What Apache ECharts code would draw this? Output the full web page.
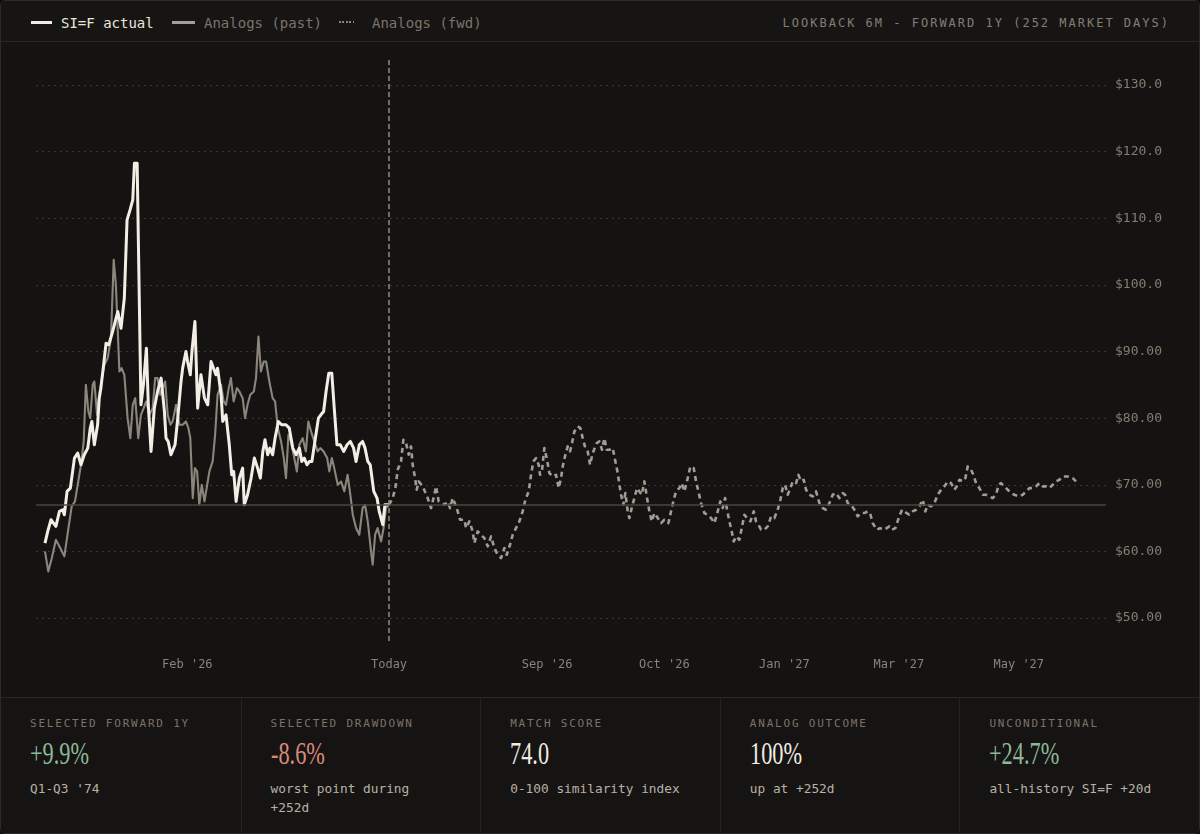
<!DOCTYPE html>
<html>
<head>
<meta charset="utf-8">
<script src="https://cdn.jsdelivr.net/npm/echarts@6/dist/echarts.min.js"></script>
<style>
  html, body { margin: 0; padding: 0; background: #0f0e0d; }
  #card { position: absolute; left: 0; top: 0; width: 1200px; height: 834px; box-sizing: border-box;
          background: #151311; border: 1px solid #2e2a26; border-radius: 6px; overflow: hidden; }
  #header { position: absolute; left: 0; top: 0; width: 100%; height: 40px; background: #171513;
            border-bottom: 1px solid #2a2622; font-family: "DejaVu Sans Mono", monospace; }
  .lg { position: absolute; top: 13px; font-size: 14px; line-height: 18px; white-space: nowrap; }
  .mk { position: absolute; top: 20px; height: 3px; }
  #title { position: absolute; right: 29px; top: 14px; font-size: 12px; line-height: 16px; letter-spacing: 2px;
           color: #857d73; white-space: nowrap; }
  #chart { position: absolute; left: 0; top: 41px; width: 1200px; height: 655px; }
  #stats { position: absolute; left: 0; top: 696px; width: 100%; height: 138px; background: #161412;
           border-top: 1px solid #2a2622; display: flex; }
  .cell { position: relative; width: 240px; height: 100%; box-sizing: border-box; }
  .cell + .cell { border-left: 1px solid #26231f; }
  .lab { position: absolute; left: 29px; top: 19px; font-family: "DejaVu Sans Mono", monospace; font-size: 11px;
         line-height: 14px; letter-spacing: 1.8px; color: #7a7369; white-space: nowrap; }
  .big { position: absolute; left: 29px; top: 39px; font-family: "Liberation Serif", serif; font-size: 31px;
         line-height: 34px; transform: scaleX(0.72); transform-origin: left center; white-space: nowrap; }
  .sub { position: absolute; left: 29px; top: 81px; max-width: 182px; font-family: "DejaVu Sans Mono", monospace;
         font-size: 12.8px; line-height: 19px; color: #b8b1a6; }
</style>
</head>
<body>
<div id="card">
  <div id="header">
    <div class="mk" style="left:30px;width:21px;background:#f1ece3;"></div>
    <div class="lg" style="left:60px;color:#ebe6dd;">SI=F actual</div>
    <div class="mk" style="left:171px;width:23px;background:#a59e94;"></div>
    <div class="lg" style="left:203px;color:#7a7369;">Analogs (past)</div>
    <div class="mk" style="left:338px;width:15px;height:2px;top:20px;background:repeating-linear-gradient(90deg,#8a847b 0 2px,transparent 2px 3.5px);"></div>
    <div class="lg" style="left:371px;color:#7a7369;">Analogs (fwd)</div>
    <div id="title">LOOKBACK 6M - FORWARD 1Y (252 MARKET DAYS)</div>
  </div>
  <div id="chart"></div>
  <div id="stats"></div>
</div>
<script>
// ---- data (x = market days relative to today, y = price in USD) ----
const currentPrice = 67.0;

const actualPast = [
  [-126.2,61.25],[-125.2,63],[-124.0,64.75],[-122.2,63.75],[-120.9,66],[-119.7,66.25],[-119.1,65.5],[-118.1,69],
  [-116.9,69.5],[-115.4,74],[-114.2,74.75],[-113.0,73],[-111.8,74.5],[-110.5,75.5],[-109.6,78.5],[-109.0,79.5],
  [-108.1,76],[-106.9,79],[-106.3,83],[-105.7,84.5],[-104.7,88],[-103.8,91.25],[-102.8,91],[-101.4,93],[-99.5,96],
  [-98.3,93.5],[-97.1,98],[-96.1,109.75],[-95.0,111.25],[-94.0,112.75],[-93.4,118.25],[-92.4,118.25],[-91.0,82],
  [-90.1,85],[-89.0,90.5],[-88.3,82],[-87.3,75],[-86.1,81.5],[-84.9,84],[-83.6,86],[-82.4,81],[-81.8,77],[-81.0,76.5],
  [-80.0,74.5],[-78.5,76],[-77.5,80],[-76.3,85.5],[-75.7,87.5],[-74.5,90],[-73.9,88.5],[-72.9,86.5],[-72.3,90],
  [-71.2,94.5],[-70.2,81.5],[-69.0,86.5],[-67.7,83],[-66.5,82],[-65.3,88.5],[-63.5,86.5],[-62.9,87.5],[-61.6,83.5],
  [-61.0,79.5],[-59.8,80.5],[-58.6,76],[-57.7,71.5],[-57.0,72],[-56.1,67.5],[-54.9,71],[-53.7,72.5],[-53.1,67],
  [-51.9,68.5],[-50.6,71],[-49.4,74],[-48.2,72.5],[-47.2,71],[-46.3,75],[-45.5,76.75],[-44.5,74.5],[-43.7,75.5],
  [-42.7,74.5],[-41.8,77],[-40.6,79.5],[-39.4,79],[-37.8,79],[-36.6,78.5],[-35.3,75.5],[-34.1,74.5],[-32.9,75.5],
  [-32.0,73.5],[-31.1,74],[-30.1,73],[-29.2,73.5],[-28.3,73.5],[-27.2,76.5],[-25.9,80],[-25.0,80.5],[-24.0,81],
  [-23.1,84],[-22.1,86.75],[-21.0,86.75],[-20.1,81.5],[-19.1,76],[-17.9,76],[-16.6,75],[-15.4,76],[-14.2,76.5],
  [-13.0,75.5],[-12.1,73.5],[-10.9,76],[-9.7,76.5],[-8.8,75.5],[-7.8,73.5],[-6.9,73],[-5.6,69],[-4.4,68],[-3.6,66],
  [-2.3,64],[-1.5,67],[0,67]
];

const analogPast = [
  [-126.2,60],[-125.0,57],[-123.7,59],[-122.2,61.75],[-120.6,60.5],[-119.1,59.25],[-117.6,63.5],[-116.4,66.75],
  [-115.2,67.5],[-114.2,70],[-113.0,73],[-112.0,76.5],[-111.2,85],[-110.3,81],[-109.6,80],[-108.7,85],[-108.1,85.5],
  [-107.1,80.5],[-106.3,83.5],[-105.3,86],[-104.4,88],[-103.2,89],[-102.0,92],[-101.0,103.75],[-100.2,100],[-99.5,93],
  [-98.9,87],[-98.1,87.5],[-97.1,86.5],[-95.9,80],[-94.9,77],[-94.0,82],[-93.1,83],[-92.0,77],[-91.0,80.5],[-90.0,81.5],
  [-89.1,82.5],[-87.9,80.5],[-86.7,81.5],[-85.8,86],[-84.9,86],[-83.9,83.5],[-83.0,84.5],[-82.1,85.5],[-81.2,80.5],
  [-80.2,79],[-79.4,79.5],[-78.1,82],[-76.9,79],[-75.7,79],[-74.5,79.5],[-73.6,78.5],[-72.9,77],[-72.0,68],[-71.2,72.5],
  [-70.4,72],[-69.6,67],[-68.7,70],[-67.7,67.5],[-65.9,72],[-64.7,73.5],[-63.8,77.5],[-62.9,83.5],[-61.6,85],[-60.7,82.5],
  [-59.8,82],[-58.8,84.5],[-58.0,86],[-57.0,82.5],[-55.8,84.5],[-54.9,84],[-53.7,83],[-52.8,80],[-51.9,82],[-50.9,83.5],
  [-49.6,84],[-48.8,86],[-47.9,92.25],[-47.0,87],[-46.0,88.5],[-45.1,88.5],[-43.9,85.5],[-42.7,83],[-41.8,82.5],
  [-40.8,78.5],[-39.6,76.5],[-38.6,74],[-37.8,71],[-36.9,77.5],[-36.0,76.5],[-35.0,74.5],[-33.8,72],[-32.9,76],
  [-31.7,77],[-30.5,75],[-29.6,79.5],[-28.6,78],[-27.4,76.5],[-26.2,75],[-25.2,75.5],[-24.0,75],[-22.7,74],[-21.9,72],
  [-21.0,74],[-20.1,72.5],[-18.8,70],[-17.6,70.5],[-16.4,69],[-15.2,71.5],[-14.2,68.5],[-13.3,65.5],[-12.1,63.5],
  [-10.9,62.5],[-9.7,66.5],[-8.8,67],[-7.8,64.5],[-6.6,60],[-6.0,58],[-5.1,62.5],[-4.2,63.5],[-2.9,61.5],[-2.0,63.5],
  [-1.1,66.5],[0,67]
];

const analogFwd = [
  [0,67],[1.35,68],[2.32,69.5],[3.18,72.25],[4.40,73.5],[5.26,76.75],[6.24,76.25],[7.22,74.5],[8.07,75.75],[8.68,73],
  [9.66,70.75],[10.15,69.25],[10.88,70.5],[12.35,69.75],[14.19,68],[15.41,66.5],[16.63,68.5],[17.24,69.75],[18.22,67.5],
  [19.08,67.25],[20.30,67],[21.52,67.5],[22.38,66.5],[23.36,68],[24.82,66.5],[26.05,64.75],[27.64,64.75],[28.25,63.5],
  [29.47,64.5],[30.69,63],[31.30,61.25],[32.53,63],[33.75,62.5],[34.97,62],[36.20,60.75],[37.42,62.25],[38.64,60.5],
  [39.86,59.5],[41.09,59],[42.31,60.5],[43.17,59.5],[44.39,61],[45.37,62.5],[46.59,63.5],[47.81,64.5],[49.03,66],
  [50.01,67.75],[51.24,69],[52.09,71.5],[52.95,73.5],[53.93,74],[54.90,73],[55.39,71.5],[56.13,72.25],[56.98,75.5],
  [57.84,74],[58.82,71.75],[60.04,71.25],[61.26,71.5],[62.24,69.5],[63.10,71],[63.71,72.75],[64.69,74.5],[65.54,75.75],
  [66.40,75],[67.13,76.25],[67.99,78],[69.21,78.75],[70.19,78.5],[71.05,77],[72.02,75.5],[72.88,75],[73.74,73],
  [74.71,74.75],[76.18,76.25],[77.16,76.5],[78.14,75.25],[78.99,77],[79.85,75.25],[80.83,75.25],[82.05,75.5],
  [83.03,73.5],[83.89,71.75],[84.50,70],[85.11,68.5],[85.96,67],[86.70,68.75],[87.56,66],[88.17,65],[89.02,66.5],
  [90.00,68],[90.98,69.5],[91.84,69],[92.69,68.5],[93.67,70.5],[94.65,68],[95.50,66],[96.36,64.5],[97.34,65.75],
  [98.56,65],[99.78,64.25],[101.01,64.75],[102.47,64.25],[103.45,66],[104.43,67.75],[105.29,69],[106.51,69.5],
  [107.37,70.25],[108.34,69],[109.57,71],[110.54,72.75],[111.77,72.5],[112.62,70.5],[113.48,69],[114.46,67.25],
  [115.68,65.75],[116.90,65.5],[118.13,65],[119.35,64.25],[120.57,66],[121.55,67.5],[122.41,66.5],[123.26,68],
  [124.00,66.25],[124.85,64.5],[125.71,63],[126.44,61.5],[127.30,62.25],[128.52,61.75],[129.38,63.5],[130.35,65.5],
  [131.33,65],[132.56,64.5],[133.78,66],[134.63,64.5],[135.49,64],[136.47,63.25],[137.69,63.25],[138.91,63.75],
  [140.14,65.25],[141.36,65],[142.58,66.25],[143.56,67.75],[144.42,69.5],[145.27,70],[146.25,68.5],[147.23,69.5],
  [148.08,70.5],[149.31,70.25],[150.16,71.5],[151.14,70.5],[152.12,70.75],[152.98,69.25],[154.20,68.5],[155.42,68.25],
  [156.64,69],[157.87,67.25],[159.09,66.5],[160.31,66.25],[161.54,67.25],[162.76,68.5],[163.98,68.75],[165.20,68],
  [166.43,68.75],[167.28,68.5],[168.26,67.25],[169.48,67],[170.71,66.25],[171.93,65.25],[173.15,65.75],[174.37,65.75],
  [175.59,66],[176.45,65.75],[177.42,64.25],[178.89,63.25],[180.11,63.5],[181.34,63.25],[182.56,63.5],[183.54,63.75],
  [184.52,63.25],[185.74,63.5],[186.96,65],[188.18,66.25],[189.04,66],[189.90,65.75],[190.87,65.5],[192.10,66],
  [193.32,66.25],[194.54,66.75],[195.77,67.75],[196.74,66],[197.60,67],[198.82,66.75],[200.05,67.25],[201.27,68.5],
  [202.49,69.25],[203.71,69.75],[204.94,70.5],[206.16,70.25],[207.38,69.25],[208.24,69.75],[209.22,70.75],[210.44,70.5],
  [211.42,71],[212.27,72.75],[213.50,72.25],[214.35,71.5],[215.33,70.25],[216.55,69.5],[217.78,68.5],[219.00,68.5],
  [220.22,68.25],[221.44,68],[222.67,68.5],[223.64,70],[224.50,70.25],[225.72,69.75],[226.95,69.25],[228.17,68.75],
  [229.39,68.5],[231.23,68.25],[232.45,68.5],[233.67,69],[234.90,69.5],[236.12,69.5],[237.34,69.75],[238.56,70.25],
  [239.79,69.75],[241.01,69.75],[242.23,69.5],[243.46,70],[244.68,70.5],[245.90,70.75],[247.12,71.25],[248.35,71.25],
  [249.57,71.25],[250.79,71],[252.01,70.5]
];

const xTickDays = [-74, 0, 58, 101, 145, 187, 231];
const xTickLabels = ["Feb '26", "Today", "Sep '26", "Oct '26", "Jan '27", "Mar '27", "May '27"];

const statLabels = ["SELECTED FORWARD 1Y", "SELECTED DRAWDOWN", "MATCH SCORE", "ANALOG OUTCOME", "UNCONDITIONAL"];
const statValues = ["+9.9%", "-8.6%", "74.0", "100%", "+24.7%"];
const statNotes  = ["Q1-Q3 '74", "worst point during +252d", "0-100 similarity index", "up at +252d", "all-history SI=F +20d"];
const statTones  = ["pos", "neg", "neutral", "neutral", "pos"];

// ---- stats strip ----
const toneColor = { pos: '#8db79a', neg: '#d98a7c', neutral: '#f1ece3' };
const stats = document.getElementById('stats');
statLabels.forEach((lab, i) => {
  const c = document.createElement('div');
  c.className = 'cell';
  c.innerHTML = '<div class="lab"></div><div class="big"></div><div class="sub"></div>';
  c.querySelector('.lab').textContent = lab;
  const b = c.querySelector('.big');
  b.textContent = statValues[i];
  b.style.color = toneColor[statTones[i]];
  c.querySelector('.sub').textContent = statNotes[i];
  stats.appendChild(c);
});

// ---- chart ----
const chart = echarts.init(document.getElementById('chart'));
const mono = '"DejaVu Sans Mono", monospace';
chart.setOption({
  backgroundColor: 'transparent',
  animation: false,
  grid: { left: 35, right: 95, top: 17, bottom: 56 },
  xAxis: {
    type: 'value', min: -129.5, max: 263,
    axisLine: { show: false }, axisTick: { show: false }, splitLine: { show: false },
    axisLabel: {
      customValues: xTickDays,
      formatter: v => { const k = xTickDays.indexOf(v); return k >= 0 ? xTickLabels[k] : ''; },
      color: '#8a8277', fontFamily: mono, fontSize: 12, margin: 18
    }
  },
  yAxis: {
    type: 'value', position: 'right', min: 46.55, max: 133.9, splitNumber: 8,
    axisLine: { show: false }, axisTick: { show: false },
    splitLine: { show: true, showMinLine: false, showMaxLine: false,
                 lineStyle: { color: '#3a3631', type: [2, 4], width: 1 } },
    axisLabel: { showMinLabel: false, showMaxLabel: false, margin: 9, color: '#857c70',
                 fontFamily: mono, fontSize: 13, formatter: v => '$' + Number(v).toPrecision(4) }
  },
  series: [
    {
      name: 'Analogs (past)', type: 'line', data: analogPast, showSymbol: false, z: 2,
      lineStyle: { color: '#8b857c', width: 2.1, join: 'round' },
      markLine: {
        silent: true, symbol: 'none', label: { show: false }, animation: false,
        data: [
          { yAxis: currentPrice, lineStyle: { color: '#4f433b', width: 1.5, type: 'solid' } },
          { xAxis: 0, lineStyle: { color: '#8f8a84', width: 1.5, type: [5, 3] } }
        ]
      }
    },
    {
      name: 'Analogs (fwd)', type: 'line', data: analogFwd, showSymbol: false, z: 3,
      lineStyle: { color: '#a29c93', width: 2.6, type: [5, 4], join: 'round' }
    },
    {
      name: 'SI=F actual', type: 'line', data: actualPast, showSymbol: false, z: 4,
      lineStyle: { color: '#f3eee5', width: 3, join: 'round' }
    }
  ]
});
</script>
</body>
</html>
